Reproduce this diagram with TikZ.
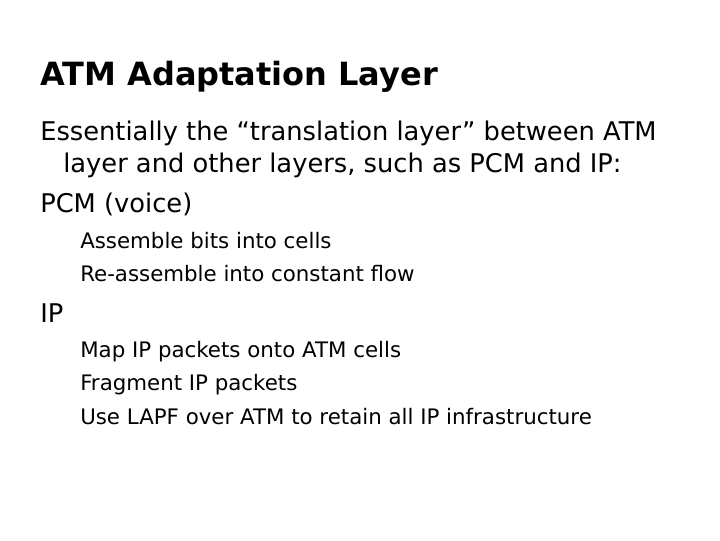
\documentclass[tikz,border=0pt]{standalone}
\usepackage{fontspec}
\setmainfont{DejaVu Sans}
\begin{document}
\begin{tikzpicture}[x=0.75pt,y=-0.75pt,
  txt/.style={anchor=base west,inner sep=0pt},
  title/.style={txt,font=\fontsize{24}{26}\selectfont\bfseries},
  body/.style={txt,font=\fontsize{19.3}{22}\selectfont},
  sub/.style={txt,font=\fontsize{16}{18}\selectfont}]
\useasboundingbox[fill=white] (0,0) rectangle (720,540);
\node[title] (t) at (40,85) {ATM Adaptation Layer};
\node[body] (b1) at (40,140) {Essentially the “translation layer” between ATM};
\node[body] (b2) at (63,172) {layer and other layers, such as PCM and IP:};
\node[body] (b3) at (40,212) {PCM (voice)};
\node[sub] (s1) at (80,248) {Assemble bits into cells};
\node[sub] (s2) at (80,281) {Re-assemble into constant flow};
\node[body] (b4) at (40,322) {IP};
\node[sub] (s3) at (80,357) {Map IP packets onto ATM cells};
\node[sub] (s4) at (80,390) {Fragment IP packets};
\node[sub] (s5) at (80,424) {Use LAPF over ATM to retain all IP infrastructure};
\end{tikzpicture}
\end{document}
